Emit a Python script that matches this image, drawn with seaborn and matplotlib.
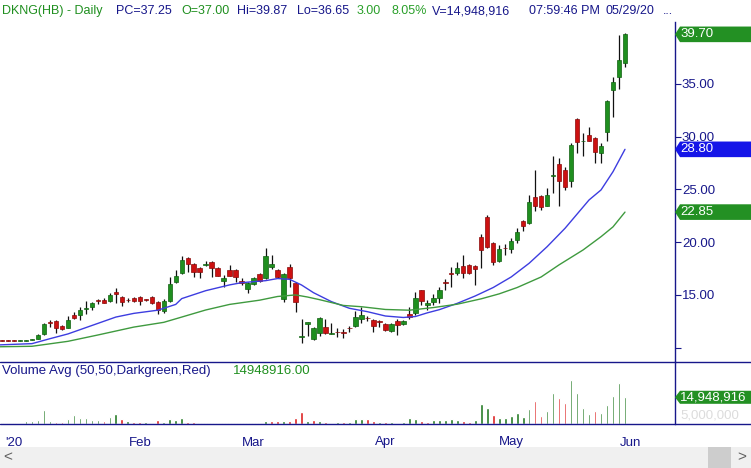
import numpy as np
import pandas as pd
import matplotlib
matplotlib.use("Agg")
import matplotlib.pyplot as plt
import matplotlib.transforms as mtransforms
from matplotlib.patches import Polygon, Rectangle
from matplotlib.lines import Line2D
import seaborn as sns

# ---------------- data ----------------
first_day = -2          # Dec 30 2019 ; day 0 = Jan 2 2020 (trading-day index)
opens = [10.68, 10.67, 10.68, 10.64, 10.66, 10.72, 10.85, 11.30, 12.40, 12.53,
         12.06, 11.90, 13.07, 13.13, 13.65, 13.88, 14.46, 14.52, 14.45, 15.28,
         14.83, 14.52, 14.70, 14.78, 14.57, 14.78, 14.33, 13.50, 14.45, 16.26,
         17.05, 18.47, 17.90, 17.55, 17.84, 18.10, 17.53, 16.35, 17.37, 17.37,
         16.32, 15.56, 16.04, 16.98, 16.58, 17.68, 17.37, 14.62, 17.62, 16.10,
         11.05, 12.20, 10.82, 11.36, 11.93, 11.34, 11.48, 11.42, 11.86, 12.06,
         12.72, 12.80, 12.62, 12.50, 12.22, 11.58, 12.56, 12.25, 13.17, 13.26,
         15.44, 14.02, 14.33, 14.68, 16.19, 17.00, 17.05, 17.75, 17.84, 17.75,
         20.47, 22.42, 19.90, 18.25, 19.45, 19.33, 20.21, 22.03, 21.79, 24.25,
         24.38, 23.46, 26.25, 27.41, 26.84, 25.77, 31.68, 29.56, 30.16, 29.85,
         28.43, 30.47, 34.43, 35.69, 37.00]
highs = [10.72, 10.70, 10.75, 10.70, 10.74, 10.86, 11.30, 12.37, 12.62, 12.62,
         12.15, 13.00, 13.40, 13.83, 14.45, 14.30, 14.62, 14.67, 15.15, 15.70,
         14.90, 14.75, 14.80, 14.85, 14.65, 14.90, 14.45, 14.60, 16.67, 17.37,
         18.70, 18.63, 18.00, 17.60, 18.25, 18.20, 17.60, 16.90, 17.84, 17.50,
         16.60, 16.20, 16.70, 17.05, 19.42, 18.79, 17.45, 17.05, 17.93, 16.20,
         12.69, 12.47, 11.93, 12.94, 12.69, 12.37, 11.84, 11.74, 12.05, 13.50,
         13.89, 13.00, 12.70, 12.65, 12.30, 12.30, 12.69, 12.65, 13.83, 15.30,
         15.50, 14.52, 15.06, 15.78, 16.48, 17.62, 18.15, 18.80, 17.95, 17.85,
         20.75, 22.55, 20.05, 19.73, 19.85, 20.37, 21.32, 22.10, 24.47, 26.84,
         24.50, 25.10, 28.17, 27.95, 27.10, 29.43, 31.74, 30.38, 30.95, 29.95,
         29.43, 33.48, 35.63, 39.64, 39.87]
lows = [10.62, 10.60, 10.62, 10.60, 10.62, 10.68, 10.80, 11.20, 11.93, 11.42,
        11.65, 11.85, 12.75, 12.62, 13.20, 13.60, 14.10, 14.20, 14.35, 14.20,
        13.95, 14.30, 14.35, 14.05, 14.45, 14.10, 13.20, 13.30, 14.30, 16.10,
        16.96, 17.20, 16.73, 16.63, 17.75, 16.67, 16.75, 15.73, 16.75, 16.25,
        15.90, 15.20, 15.90, 16.25, 16.48, 17.43, 16.60, 14.36, 15.78, 13.41,
        10.47, 11.14, 10.73, 11.14, 11.30, 11.30, 10.98, 10.90, 11.50, 11.98,
        12.31, 12.50, 11.52, 11.95, 11.60, 11.52, 11.20, 12.10, 12.75, 13.10,
        14.05, 13.57, 14.00, 14.27, 15.47, 15.72, 16.90, 16.58, 16.95, 15.94,
        17.53, 19.42, 17.84, 18.15, 18.80, 19.00, 19.90, 21.09, 21.72, 22.99,
        23.05, 23.40, 24.63, 23.43, 24.95, 25.26, 28.48, 28.17, 29.55, 27.48,
        27.54, 29.62, 31.90, 34.52, 36.65]
closes = [10.66, 10.65, 10.64, 10.66, 10.70, 10.82, 11.18, 12.25, 12.37, 11.90,
          11.77, 12.62, 12.80, 13.57, 13.70, 14.20, 14.43, 14.27, 15.00, 15.06,
          14.36, 14.48, 14.45, 14.44, 14.53, 14.20, 13.57, 14.40, 16.00, 16.80,
          18.30, 17.90, 17.20, 17.20, 17.87, 17.58, 16.82, 16.58, 16.82, 16.73,
          16.10, 16.10, 16.58, 16.35, 18.70, 17.93, 16.73, 16.98, 16.58, 14.36,
          11.10, 12.44, 11.84, 12.84, 11.36, 11.38, 11.46, 11.40, 11.82, 12.94,
          13.13, 12.78, 12.08, 12.47, 11.68, 12.25, 12.15, 12.56, 12.86, 14.68,
          14.45, 14.27, 14.71, 15.47, 16.16, 16.96, 17.53, 17.10, 17.05, 17.43,
          19.26, 19.52, 18.15, 19.33, 19.42, 20.11, 20.97, 21.54, 23.84, 23.43,
          23.37, 24.47, 26.28, 25.83, 25.26, 29.21, 29.53, 29.59, 29.62, 28.52,
          29.12, 33.38, 35.20, 37.25, 39.70]
# volume in millions of shares
volumes = [0.4, 0.4, 0.4, 0.0, 1.9, 1.9, 2.2, 7.8, 1.7, 1.1,
           0.9, 2.8, 5.1, 3.2, 3.2, 2.2, 2.2, 1.5, 4.1, 5.8,
           3.0, 1.5, 0.9, 0.9, 0.9, 0.8, 2.3, 0.9, 3.0, 2.2,
           3.4, 1.3, 0.9, 0.8, 0.8, 0.7, 0.7, 0.8, 0.7, 0.7,
           0.8, 0.7, 0.7, 0.8, 1.7, 1.7, 1.9, 1.7, 1.7, 3.4,
           6.8, 1.9, 2.2, 1.5, 1.1, 0.0, 0.9, 0.9, 1.3, 2.8,
           2.6, 2.6, 1.5, 1.3, 0.9, 0.9, 0.0, 1.3, 3.3, 2.8,
           1.7, 1.3, 2.0, 2.2, 2.4, 2.6, 2.2, 1.7, 1.3, 2.4,
           11.2, 9.0, 5.0, 3.5, 3.5, 4.7, 6.2, 4.1, 8.4, 13.1,
           4.7, 7.5, 17.4, 14.4, 11.8, 24.8, 17.5, 8.8, 5.6, 7.3,
           6.2, 10.8, 15.9, 23.2, 14.95]
prev_close = 10.67
last_volume_text = "14,948,916"

ma20_days = [-3, 3, 6, 9, 12, 14, 17, 20, 24, 27, 28, 32, 36, 38, 42, 44, 46, 48, 50, 53,
             56, 59, 62, 65, 67, 69, 71, 74, 77, 80, 83, 86, 89, 92, 96, 98, 100, 102]
ma20_vals = [10.25, 10.38, 10.85, 11.30, 11.90, 12.30, 12.90, 13.25, 13.55, 14.10,
             14.65, 15.40, 15.95, 16.16, 16.35, 16.55, 16.48, 15.94, 15.21, 14.36,
             13.73, 13.41, 13.00, 12.86, 12.95, 13.30, 13.60, 14.20, 14.90, 15.70,
             16.70, 18.00, 19.57, 21.32, 24.00, 24.95, 26.68, 28.80]
ma50_days = [-3, 3, 9, 14, 20, 25, 28, 32, 36, 41, 44, 47, 49, 51, 55, 58, 62, 66, 70, 74,
             78, 81, 84, 86, 88, 91, 95, 98, 100, 102]
ma50_vals = [10.08, 10.13, 10.60, 11.20, 11.95, 12.40, 12.90, 13.57, 14.10, 14.50,
             14.85, 15.00, 14.80, 14.55, 14.00, 13.88, 13.62, 13.55, 13.80, 14.12,
             14.63, 15.10, 15.70, 16.20, 16.70, 17.85, 19.26, 20.52, 21.45, 22.85]

month_days = [0, 21, 40, 62, 83, 103]
month_labels = ["'20", "Feb", "Mar", "Apr", "May", "Jun"]
week_days = [-2, 2, 7, 12, 16, 26, 31, 35, 45, 50, 55, 60, 65, 69, 74, 79, 84, 89, 94, 99, 108]

price_ticks = [10, 15, 20, 25, 30, 35]

# ---------------- style ----------------
sns.set_style("white")
plt.rcParams['font.family'] = ['Liberation Sans', 'DejaVu Sans']

navy = "#17178a"
green = "#1f8f1f"
green_edge = "#106010"
red = "#cc1111"
red_edge = "#8a0a0a"
vol_green = "#237a23"
vol_red = "#dd2020"
tag_green = "#239023"
fs = 9.5

W, H = 751, 468
fig = plt.figure(figsize=(W / 100, H / 100), dpi=100)


def frect(x0, y0, x1, y1):
    return [x0 / W, 1 - y1 / H, (x1 - x0) / W, (y1 - y0) / H]


ax = fig.add_axes(frect(0, 22, 675, 362))
axv = fig.add_axes(frect(0, 362, 675, 424))

df = pd.DataFrame({"open": opens, "high": highs, "low": lows,
                   "close": closes, "volume": volumes})
df["day"] = np.arange(first_day, first_day + len(df))
up = df["close"] >= df["open"]
body_lo = df[["open", "close"]].min(axis=1)
body_h = (df["close"] - df["open"]).abs().clip(lower=0.07)

# candles
ax.vlines(df["day"], df["low"], df["high"], color="#111111", lw=0.9, zorder=2)
ax.bar(df["day"], body_h, bottom=body_lo, width=0.74,
       color=np.where(up, green, red), edgecolor=np.where(up, green_edge, red_edge),
       linewidth=0.5, zorder=3)

# moving averages
sns.lineplot(x=ma20_days, y=ma20_vals, ax=ax, color="#3d3de0", lw=1.0,
             estimator=None, sort=False, zorder=4)
sns.lineplot(x=ma50_days, y=ma50_vals, ax=ax, color="#3f9a3f", lw=1.0,
             estimator=None, sort=False, zorder=4)

# volume
vol_up = df["close"].diff().fillna(df["close"].iloc[0] - prev_close) >= 0
axv.bar(df["day"], df["volume"], width=0.45,
        color=np.where(vol_up, vol_green, vol_red), zorder=3)

# axes
for a in (ax, axv):
    a.set_xlim(-2.34, 110.35)
    for s in ("top", "left", "bottom"):
        a.spines[s].set_visible(False)
    a.spines["right"].set_color(navy)
    a.spines["right"].set_linewidth(1.0)
ax.set_ylim(8.64, 40.87)
axv.set_ylim(0, 34.7)

ax.yaxis.tick_right()
ax.set_yticks(price_ticks)
ax.set_yticklabels([""] + ["%.2f" % t for t in price_ticks[1:]])
ax.tick_params(axis="y", direction="out", length=4, width=0.8, color=navy,
               labelcolor=navy, labelsize=fs, pad=1)
ax.set_xticks([])
ax.set_xlabel("")
ax.set_ylabel("")

axv.set_yticks([])
axv.set_xticks(month_days)
axv.set_xticklabels(month_labels)
axv.set_xticks(week_days, minor=True)
axv.tick_params(axis="x", which="both", direction="out", length=5, width=0.8,
                color=navy, labelcolor=navy, labelsize=fs, pad=4)

# full-width separator lines
for yy in (362, 424):
    fig.add_artist(Line2D([0, 1], [1 - yy / H, 1 - yy / H], color=navy, lw=1.0))


def tag(axis, y, text, color, h):
    tr = mtransforms.blended_transform_factory(fig.transFigure, axis.transData)
    x0, x1, x2 = 675 / W, 680 / W, 1.0
    fig.add_artist(Polygon([(x0, y), (x1, y + h / 2), (x2, y + h / 2),
                            (x2, y - h / 2), (x1, y - h / 2)], closed=True,
                           transform=tr, facecolor=color, edgecolor="none", zorder=6))
    fig.text(680 / W, y, text, transform=tr, color="white", fontsize=fs,
             va="center", ha="left", zorder=7)


tag(ax, closes[-1], "%.2f" % closes[-1], tag_green, 1.48)
tag(ax, ma20_vals[-1], "%.2f" % ma20_vals[-1], "#1515e8", 1.48)
tag(ax, ma50_vals[-1], "%.2f" % ma50_vals[-1], tag_green, 1.48)

trv = mtransforms.blended_transform_factory(fig.transFigure, axv.transData)
fig.text(680 / W, 5.0, "5,000,000", transform=trv, color="#dcdcdc", fontsize=fs,
         va="center", ha="left")
tag(axv, volumes[-1], last_volume_text, tag_green, 7.3)

# header
header = [(2, "DKNG(HB) - Daily", green), (116, "PC=37.25", navy), (181, "O=37.00", green),
          (237, "Hi=39.87", navy), (297, "Lo=36.65", navy), (357, "3.00", "#2aa02a"),
          (391, "8.05%", "#2aa02a"), (432, "V=14,948,916", navy),
          (529, "07:59:46 PM", navy), (606, "05/29/20", navy), (663, "...", navy)]
for x, s, c in header:
    fig.text(x / W, 1 - 11 / H, s, color=c, fontsize=9, va="center", ha="left")

fig.text(2 / W, 1 - 371 / H, "Volume Avg (50,50,Darkgreen,Red)", color=navy,
         fontsize=fs, va="center", ha="left")
fig.text(233 / W, 1 - 371 / H, "14948916.00", color=green, fontsize=fs,
         va="center", ha="left")

# scrollbar strip
fig.add_artist(Rectangle((0, 0), 1, 21 / H, transform=fig.transFigure,
                         facecolor="#f0f0f0", edgecolor="none", zorder=0))
fig.add_artist(Rectangle((708 / W, 0), 23 / W, 21 / H, transform=fig.transFigure,
                         facecolor="#cdcdcd", edgecolor="none", zorder=1))
fig.text(8 / W, 10.5 / H, "<", color="#606060", fontsize=11, va="center", ha="center")
fig.text(742 / W, 10.5 / H, ">", color="#606060", fontsize=11, va="center", ha="center")

fig.savefig("out.png", dpi=100)
